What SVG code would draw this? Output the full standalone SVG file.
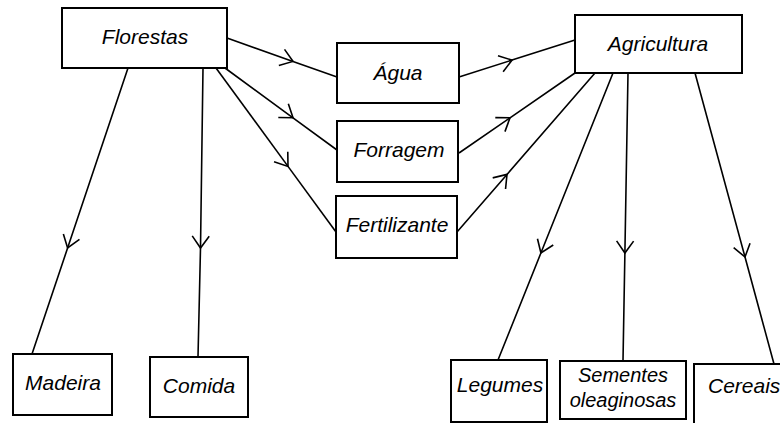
<svg xmlns="http://www.w3.org/2000/svg" width="780" height="423" viewBox="0 0 780 423">
<style>
.box{fill:#fff;stroke:#000;stroke-width:2}
.lbl{font-family:"Liberation Sans",Arial,sans-serif;font-style:italic;font-size:21px;fill:#000;text-anchor:middle}
.con{fill:none;stroke:#000;stroke-width:1.6;marker-mid:url(#v)}
</style>
<defs>
<marker id="v" viewBox="-15 -15 30 30" markerUnits="userSpaceOnUse" markerWidth="30" markerHeight="30" refX="0" refY="0" orient="auto">
<path d="M-12,-8.5 L0,0 L-12,8.5" fill="none" stroke="#000" stroke-width="1.6"/>
</marker>
</defs>
<rect width="780" height="423" fill="#fff"/>
<g id="connectors">
<path class="con" d="M227,38 L293,61.4 L337,77"/>
<path class="con" d="M225,68 L293,117.8 L337,150"/>
<path class="con" d="M216,68 L288,166.4 L336,232"/>
<path class="con" d="M128,68 L67.6,248 L32,354"/>
<path class="con" d="M203,68 L200.5,248 L198,357"/>
<path class="con" d="M459,77 L512,60.1 L575,40"/>
<path class="con" d="M459,153 L510,117.8 L575,73"/>
<path class="con" d="M457,232 L507,174.4 L595,73"/>
<path class="con" d="M613,73 L540.9,253 L498,360"/>
<path class="con" d="M628,73 L624.9,253 L623,361"/>
<path class="con" d="M695,73 L745,257 L774,364"/>
</g>
<g id="florestas"><rect class="box" x="62" y="8" width="165" height="60"/><text class="lbl" x="145" y="44">Florestas</text></g>
<g id="agua"><rect class="box" x="337" y="43" width="122" height="60"/><text class="lbl" x="398" y="80">Água</text></g>
<g id="forragem"><rect class="box" x="337" y="121" width="121" height="61"/><text class="lbl" x="399" y="157">Forragem</text></g>
<g id="fertilizante"><rect class="box" x="336" y="196" width="121" height="62"/><text class="lbl" x="397" y="232">Fertilizante</text></g>
<g id="agricultura"><rect class="box" x="575" y="15" width="167" height="58"/><text class="lbl" x="658" y="51">Agricultura</text></g>
<g id="madeira"><rect class="box" x="13" y="354" width="99" height="61"/><text class="lbl" x="63" y="390">Madeira</text></g>
<g id="comida"><rect class="box" x="150" y="357" width="98" height="60"/><text class="lbl" x="199" y="393">Comida</text></g>
<g id="legumes"><rect class="box" x="451" y="360" width="96" height="62"/><text class="lbl" x="500" y="392">Legumes</text></g>
<g id="sementes"><rect class="box" x="560" y="361" width="126" height="58"/><text class="lbl" x="623" y="382" style="font-size:20px">Sementes</text><text class="lbl" x="623" y="407" style="font-size:20px">oleaginosas</text></g>
<g id="cereais"><rect class="box" x="694" y="364" width="100" height="70"/><text class="lbl" x="708" y="393" style="text-anchor:start">Cereais</text></g>
</svg>
